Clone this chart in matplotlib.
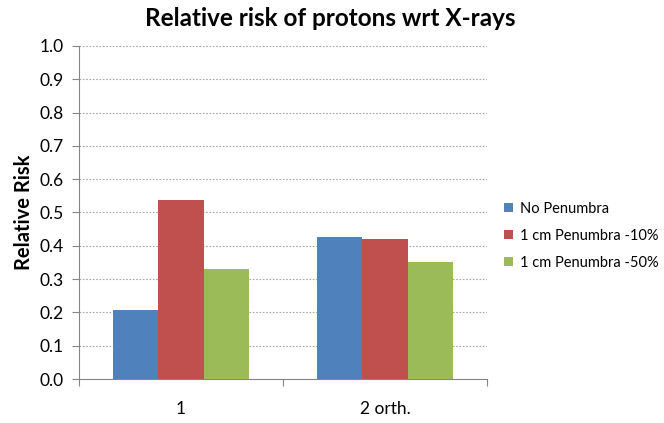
import numpy as np
import matplotlib
matplotlib.use("Agg")
import matplotlib.pyplot as plt

plt.rcParams["font.family"] = ["Lato", "DejaVu Sans"]

# --- Data ---
categories = ["1", "2 orth."]
series_names = ["No Penumbra", "1 cm Penumbra -10%", "1 cm Penumbra -50%"]
no_penumbra = [0.208, 0.425]
penumbra_10 = [0.538, 0.419]
penumbra_50 = [0.330, 0.350]
y_ticks = [0.0, 0.1, 0.2, 0.3, 0.4, 0.5, 0.6, 0.7, 0.8, 0.9, 1.0]

colors = ["#4F81BD", "#C0504D", "#9BBB59"]
axis_grey = "#868686"

fig = plt.figure(figsize=(6.64, 4.23), dpi=100)
ax = fig.add_axes([79 / 664, 1 - 379 / 423, (487 - 79) / 664, (379 - 46) / 423])

x = np.arange(len(categories))
width = 0.223
for i, (vals, name) in enumerate(zip([no_penumbra, penumbra_10, penumbra_50], series_names)):
    ax.bar(x + (i - 1) * width, vals, width, color=colors[i], label=name, zorder=3)

ax.set_xlim(-0.5, len(categories) - 0.5)
ax.set_ylim(0, 1.0)
ax.set_yticks(y_ticks)
ax.set_yticklabels([f"{t:.1f}" for t in y_ticks], fontsize=12.5)
ax.yaxis.grid(True, linestyle=(0, (1.5, 1.5)), color="#A6A6A6", linewidth=0.8, zorder=0)

# category boundary ticks, labels centred on groups
ax.set_xticks(np.arange(-0.5, len(categories), 1.0))
ax.set_xticklabels([])
ax.set_xticks(x, minor=True)
ax.set_xticklabels(categories, minor=True, fontsize=12.5)
ax.tick_params(axis="x", which="major", length=5, color=axis_grey, direction="out")
ax.tick_params(axis="x", which="minor", length=0, pad=16)
ax.tick_params(axis="y", length=5, color=axis_grey, direction="out", pad=6)

for side in ["top", "right"]:
    ax.spines[side].set_visible(False)
for side in ["left", "bottom"]:
    ax.spines[side].set_color(axis_grey)

ax.set_ylabel("Relative Risk", fontsize=14.5, fontweight="bold", labelpad=4)
fig.text(330 / 664, 1 - 19 / 423, "Relative risk of protons wrt X-rays",
         ha="center", va="center", fontsize=17.5, fontweight="bold")

ax.legend(loc="center left", bbox_to_anchor=(1.01, 0.43), frameon=False, fontsize=10.5,
          handlelength=0.6, handleheight=0.6, handletextpad=0.5, labelspacing=0.9)

fig.savefig("out.png", dpi=100)
